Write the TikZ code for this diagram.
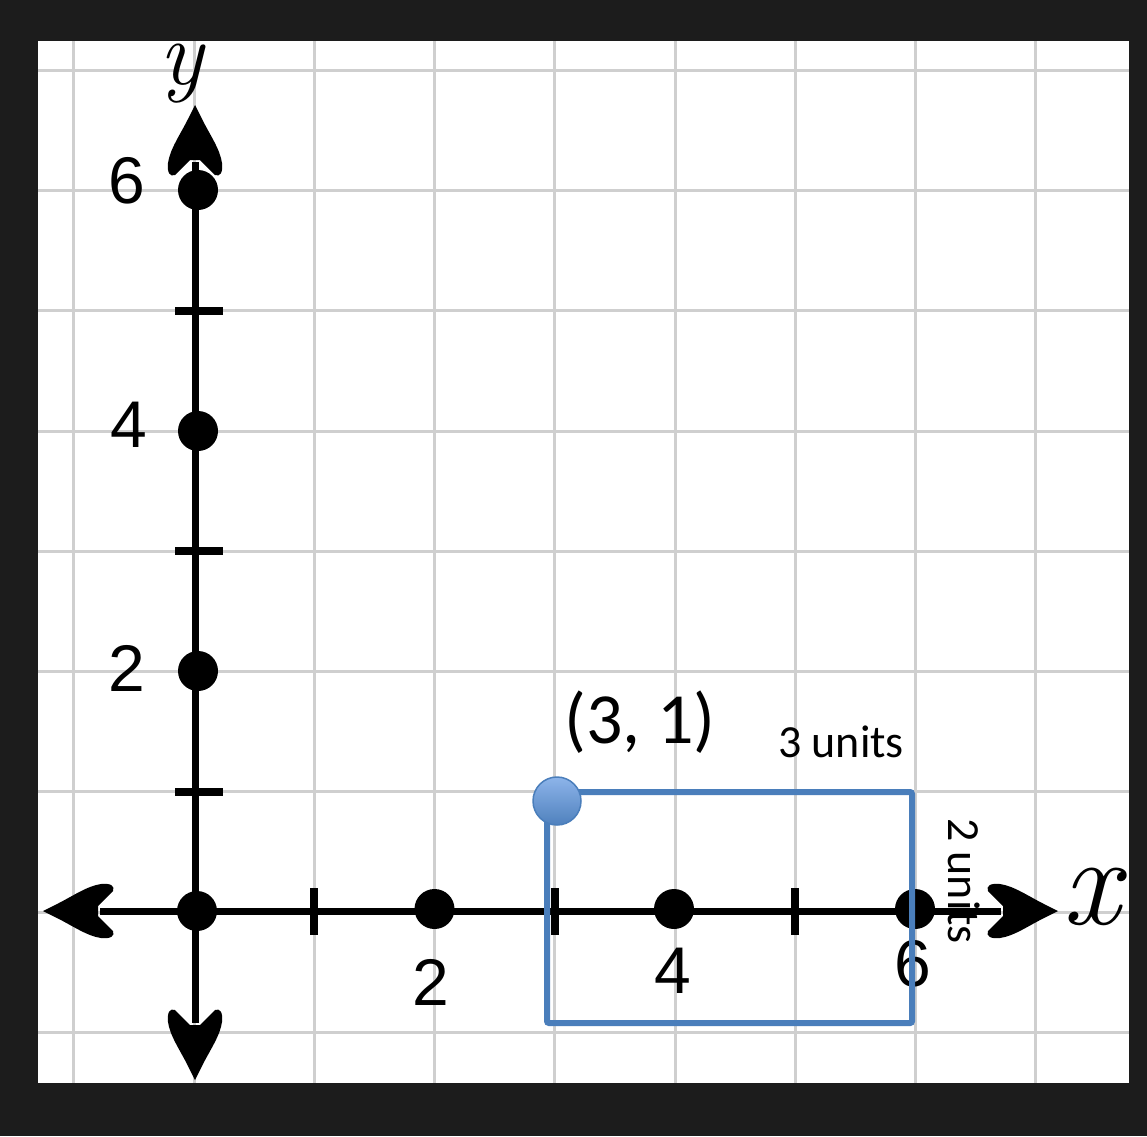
\documentclass[tikz,border=0pt]{standalone}
\usepackage{fontspec}
\newfontfamily\lsans{Liberation Sans}
\newfontfamily\calib{Carlito}
\usetikzlibrary{arrows.meta}
\definecolor{framec}{HTML}{1C1C1C}
\definecolor{gridc}{HTML}{CFCFCF}
\definecolor{rectblue}{HTML}{4A7EBB}
\definecolor{balltop}{HTML}{8DB4EA}
\definecolor{ballbot}{HTML}{4F81BD}
\tikzset{
  gridline/.style={gridc, line width=3pt},
  axisline/.style={line width=7pt},
  tickmark/.style={line width=8pt},
  dotnode/.style={circle, fill=black, minimum size=40pt, inner sep=0pt},
  numlbl/.style={inner sep=0pt, font=\lsans\fontsize{66}{66}\selectfont},
  calbig/.style={font=\calib\fontsize{72}{72}\selectfont},
  calsmall/.style={font=\calib\fontsize{46}{46}\selectfont},
  axlbl/.style={inner sep=0pt},
  bluerect/.style={rectblue, line width=6pt, rounded corners=2pt},
  ball/.style={circle, minimum size=48pt, inner sep=0pt, top color=balltop, bottom color=ballbot, draw=rectblue, line width=1.5pt},
  arrhd/.pic={
    \fill[black] (0,0) -- (-14,7) .. controls (-30,15) and (-44,25) .. (-58,27)
      .. controls (-68,28) and (-72,25) .. (-70,20) -- (-55,5) -- (-55,-5) -- (-70,-20)
      .. controls (-72,-25) and (-68,-28) .. (-58,-27)
      .. controls (-44,-25) and (-30,-15) .. (-14,-7) -- cycle;
  }
}
\begin{document}
\begin{tikzpicture}[x=1pt,y=-1pt]
\fill[framec] (0,0) rectangle (1147,1136);
\useasboundingbox (0,0) rectangle (1147,1136);
\fill[white] (38,41) rectangle (1129,1083);
% grid
\foreach \i in {-1,...,7} {
  \draw[gridline] (194+120.25*\i,41) -- (194+120.25*\i,1083);
  \draw[gridline] (38,912-120.25*\i) -- (1129,912-120.25*\i);
}
% axes
\coordinate (O) at (195,911);
\coordinate (xleft) at (43,911);
\coordinate (xright) at (1058,911);
\coordinate (ytop) at (195,105);
\coordinate (ybot) at (195,1080);
\coordinate (xleftb) at (100,911);
\coordinate (xrightb) at (1001,911);
\coordinate (ytopb) at (195,162);
\coordinate (ybotb) at (195,1023);
\draw[axisline] (xleftb) -- (xrightb);
\draw[axisline] (ybotb) -- (ytopb);
\pic[rotate=0] at (xright) {arrhd};
\pic[rotate=180] at (xleft) {arrhd};
\pic[rotate=90] at (ytop) {arrhd};
\pic[rotate=-90] at (ybot) {arrhd};
% ticks
\foreach \k in {1,3,5} {
  \draw[tickmark] (194+120.25*\k,888) -- (194+120.25*\k,935);
  \draw[tickmark] (175,912-120.25*\k) -- (223,912-120.25*\k);
}
% dots
\node[dotnode] (d0) at (197,911) {};
\node[dotnode] (dx2) at (434.5,909) {};
\node[dotnode] (dx4) at (674,909) {};
\node[dotnode] (dx6) at (915,909) {};
\node[dotnode] (dy2) at (198,671) {};
\node[dotnode] (dy4) at (198,431) {};
\node[dotnode] (dy6) at (198,190) {};
% number labels
\node[numlbl] (ly6) at (127,181) {6};
\node[numlbl] (ly4) at (129,425) {4};
\node[numlbl] (ly2) at (127,668) {2};
\node[numlbl] (lx2) at (431,982) {2};
\node[numlbl] (lx4) at (673,971) {4};
\node[numlbl] (lx6) at (913,964) {6};
% axis labels
\node[axlbl, font=\itshape\fontsize{92}{92}\selectfont] (ylab) at (181,74) {y};
\node[axlbl, font=\itshape\fontsize{128}{128}\selectfont] (xlab) at (1091,897) {x};
% rectangle and point
\draw[bluerect] (547,792) rectangle (912,1023);
\node[ball] (pt) at (557,801) {};
% text labels
\node[calbig, anchor=base] (lbl31) at (640,743) {(3, 1)};
\node[calsmall, anchor=base] (lbl3u) at (841,757) {3 units};
\node[calsmall, rotate=-90, inner sep=0pt] (lbl2u) at (964,881) {2 units};
\end{tikzpicture}
\end{document}
